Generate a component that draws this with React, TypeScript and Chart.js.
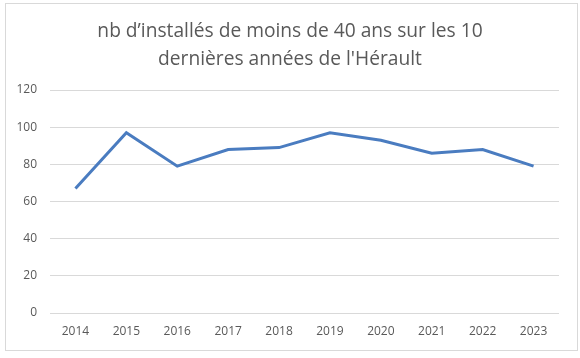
import React, { useEffect, useRef } from "react";
import { Chart, registerables } from "chart.js";

Chart.register(...registerables);

const categories = ["2014", "2015", "2016", "2017", "2018", "2019", "2020", "2021", "2022", "2023"];
const installes = [67, 97, 79, 88, 89, 97, 93, 86, 88, 79];
const titleLines = ["nb d\u2019installés de moins de 40 ans sur les 10", "dernières années de l'Hérault"];

export default function App() {
  const ref = useRef<HTMLCanvasElement>(null);

  useEffect(() => {
    document.body.style.margin = "0";
    const ctx = ref.current!;
    const chart = new Chart(ctx, {
      type: "line",
      data: {
        labels: categories,
        datasets: [
          {
            data: installes,
            borderColor: "#4a7cc0",
            borderWidth: 3,
            pointRadius: 0,
            tension: 0,
            fill: false,
          },
        ],
      },
      options: {
        animation: false,
        responsive: false,
        layout: { padding: { left: 0, right: 0, top: 0, bottom: 0 } },
        plugins: {
          legend: { display: false },
          tooltip: { enabled: false },
          title: {
            display: true,
            text: titleLines,
            color: "#595959",
            font: { family: "Open Sans", size: 19.2, weight: "normal", lineHeight: "28px" },
            padding: { top: 18, bottom: 16 },
          },
        },
        scales: {
          x: {
            offset: true,
            grid: { display: false, drawTicks: false },
            border: { display: false },
            ticks: {
              color: "#595959",
              font: { family: "Open Sans", size: 12 },
              padding: 11,
              maxRotation: 0,
            },
            afterFit: (s: any) => {
              s.height = 45;
            },
          },
          y: {
            min: 0,
            max: 120,
            grid: { color: "#d9d9d9", lineWidth: 1, drawTicks: false },
            border: { display: false },
            ticks: {
              stepSize: 20,
              color: "#595959",
              font: { family: "Open Sans", size: 12 },
              padding: 13,
            },
            afterFit: (s: any) => {
              s.width = 50;
            },
          },
          yRight: {
            position: "right",
            display: true,
            min: 0,
            max: 120,
            grid: { display: false, drawTicks: false },
            border: { display: false },
            ticks: { display: false },
            afterFit: (s: any) => {
              s.width = 21;
            },
          },
        },
      },
    });
    return () => chart.destroy();
  }, []);

  return (
    <div style={{ position: "absolute", left: 0, top: 0, width: 580, height: 358, background: "#fff" }}>
      <div
        style={{
          position: "absolute",
          left: 5,
          top: 3,
          width: 571,
          height: 346,
          border: "1px solid #d9d9d9",
        }}
      />
      <canvas ref={ref} width={580} height={358} style={{ position: "absolute", left: 0, top: 0 }} />
    </div>
  );
}
